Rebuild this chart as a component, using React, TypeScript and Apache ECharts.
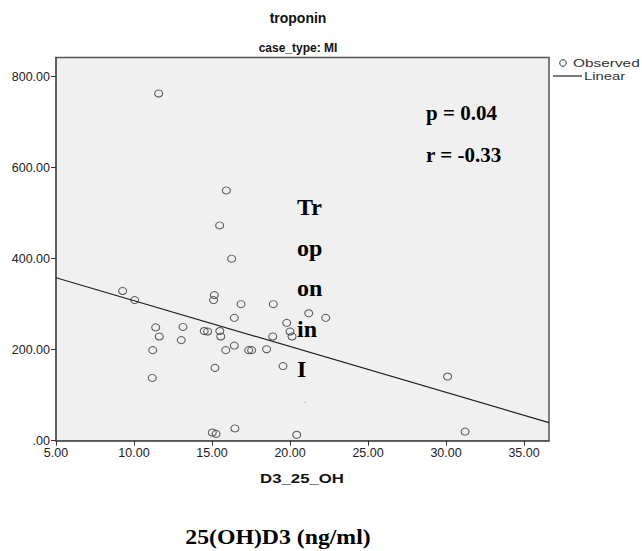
import React, { useEffect, useRef } from "react";
import * as echarts from "echarts";

const xTicks = [5, 10, 15, 20, 25, 30, 35];
const yTicks = [0, 200, 400, 600, 800];

const observedX = [
  9.27, 10.04, 11.39, 11.62, 11.2, 11.17, 13.14, 13.03, 14.5, 14.72,
  15.15, 15.1, 15.5, 15.56, 15.19, 15.88, 16.43, 16.43, 16.86, 17.35,
  17.54, 18.5, 18.93, 18.89, 19.55, 19.79, 20.0, 20.13, 21.2, 16.26,
  15.02, 15.26, 16.47, 20.43, 11.58, 15.92, 15.49, 22.29, 30.1, 31.22,
];
const observedY = [
  329, 309, 249, 229, 199, 138, 250, 221, 241, 240,
  320, 309, 241, 229, 160, 199, 270, 209, 300, 199,
  199, 201, 300, 229, 164, 259, 240, 229, 280, 400,
  18, 15, 27, 13, 763, 550, 473, 270, 141, 20,
];

const linearX = [5, 36.6];
const linearY = [358, 39.6];

const annotations = ["p = 0.04", "r = -0.33"];
const verticalWord = ["Tr", "op", "on", "in", "I"];

export default function App() {
  const ref = useRef<HTMLDivElement>(null);

  useEffect(() => {
    if (!ref.current) return;
    const chart = echarts.init(ref.current, null, { renderer: "svg" });

    const gridLeft = 56;
    const gridTop = 57.5;
    const gridRight = 642 - 549;
    const gridBottom = 551 - 440.7;

    const serif = "'Liberation Serif', 'Times New Roman', serif";
    const sans = "Arial, 'Liberation Sans', sans-serif";

    const graphics: any[] = [
      {
        type: "text",
        x: 298,
        y: 18,
        style: { text: "troponin", font: `bold 14px ${sans}`, fill: "#111", align: "center", verticalAlign: "middle" },
      },
      {
        type: "text",
        x: 298,
        y: 48,
        style: { text: "case_type: MI", font: `bold 12px ${sans}`, fill: "#111", align: "center", verticalAlign: "middle" },
      },
      {
        type: "circle",
        shape: { cx: 563, cy: 63, r: 3.3 },
        style: { fill: "transparent", stroke: "#333", lineWidth: 1 },
      },
      {
        type: "text",
        x: 573,
        y: 63,
        scaleX: 1.4,
        style: { text: "Observed", font: `11px ${sans}`, fill: "#333", align: "left", verticalAlign: "middle" },
      },
      {
        type: "line",
        shape: { x1: 553, y1: 76, x2: 582, y2: 76 },
        style: { stroke: "#222", lineWidth: 1.2 },
      },
      {
        type: "text",
        x: 584,
        y: 76,
        scaleX: 1.35,
        style: { text: "Linear", font: `11px ${sans}`, fill: "#333", align: "left", verticalAlign: "middle" },
      },
      {
        type: "text",
        x: 426,
        y: 113,
        style: { text: annotations[0], font: `bold 21px ${serif}`, fill: "#000", align: "left", verticalAlign: "middle" },
      },
      {
        type: "text",
        x: 426,
        y: 155,
        style: { text: annotations[1], font: `bold 21px ${serif}`, fill: "#000", align: "left", verticalAlign: "middle" },
      },
      ...verticalWord.map((w, i) => ({
        type: "text",
        x: 297,
        y: 207 + i * 40.6,
        style: { text: w, font: `bold 24px ${serif}`, fill: "#000", align: "left", verticalAlign: "middle" },
      })),
      {
        type: "text",
        x: 305,
        y: 400,
        style: { text: ".", font: `8px ${serif}`, fill: "#555", align: "center", verticalAlign: "middle" },
      },
      {
        type: "text",
        x: 302,
        y: 479,
        scaleX: 1.4,
        style: { text: "D3_25_OH", font: `bold 12px ${sans}`, fill: "#111", align: "center", verticalAlign: "middle" },
      },
      {
        type: "text",
        x: 278,
        y: 537,
        scaleX: 1.08,
        style: { text: "25(OH)D3 (ng/ml)", font: `bold 22px ${serif}`, fill: "#000", align: "center", verticalAlign: "middle" },
      },
    ];

    chart.setOption({
      animation: false,
      backgroundColor: "#fff",
      grid: {
        left: gridLeft,
        top: gridTop,
        right: gridRight,
        bottom: gridBottom,
        show: true,
        backgroundColor: "#f0f0f0",
        borderColor: "#555",
        borderWidth: 1.5,
      },
      xAxis: {
        type: "value",
        min: 5,
        max: 36.6,
        interval: 5,
        axisLine: { show: true, lineStyle: { color: "#555", width: 1.5 } },
        axisTick: { show: true, length: 5, lineStyle: { color: "#333" }, customValues: xTicks },
        axisLabel: {
          customValues: xTicks,
          fontFamily: sans,
          fontSize: 12.5,
          color: "#222",
          margin: 6,
          formatter: (v: number) => v.toFixed(2),
        },
        splitLine: { show: false },
      },
      yAxis: {
        type: "value",
        min: 0,
        max: 842,
        interval: 200,
        axisLine: { show: true, lineStyle: { color: "#555", width: 1.5 } },
        axisTick: { show: true, length: 5, lineStyle: { color: "#333" }, customValues: yTicks },
        axisLabel: {
          customValues: yTicks,
          fontFamily: sans,
          fontSize: 12.5,
          color: "#222",
          margin: 6,
          formatter: (v: number) => (v === 0 ? ".00" : v.toFixed(2)),
        },
        splitLine: { show: false },
      },
      series: [
        {
          name: "Observed",
          type: "scatter",
          symbol: "circle",
          symbolSize: [8, 7],
          data: observedX.map((x, i) => [x, observedY[i]]),
          itemStyle: { color: "transparent", borderColor: "#333", borderWidth: 1 },
          z: 3,
        },
        {
          name: "Linear",
          type: "line",
          data: linearX.map((x, i) => [x, linearY[i]]),
          symbol: "none",
          lineStyle: { color: "#222", width: 1.2 },
          z: 2,
        },
      ],
      graphic: graphics,
    });

    return () => chart.dispose();
  }, []);

  return (
    <div
      ref={ref}
      style={{ position: "fixed", left: 0, top: 0, width: 642, height: 551 }}
    />
  );
}
